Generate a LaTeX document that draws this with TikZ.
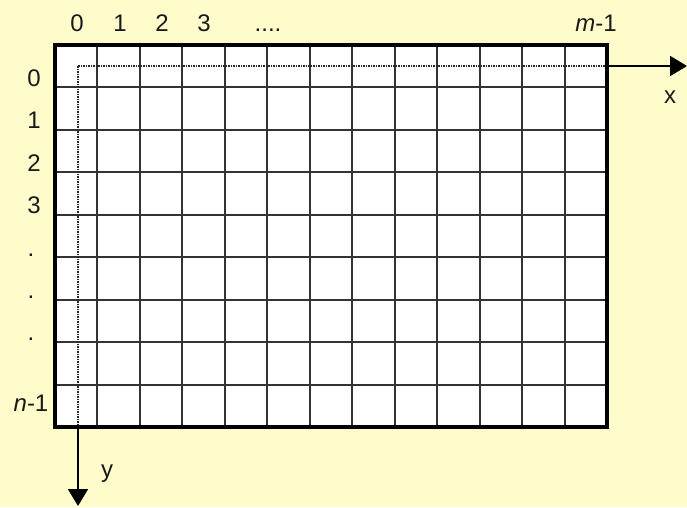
\documentclass[tikz,border=0pt]{standalone}
\usepackage{fontspec}
\setmainfont{Liberation Sans}
\usetikzlibrary{arrows.meta}
\definecolor{bgyellow}{RGB}{255,252,204}
\definecolor{txt}{RGB}{25,25,25}
\begin{document}
\begin{tikzpicture}[x=1pt,y=-1pt,
  lbl/.style={inner sep=0pt,anchor=base,text=txt,font=\fontsize{24}{27}\selectfont},
  gridline/.style={black!80,line width=2pt},
  border/.style={black,line width=3.5pt},
  dotaxis/.style={black!85,line width=2.4pt,dash pattern=on 1.5pt off 1pt},
  axis/.style={black,line width=1.8pt,-{Triangle[length=17pt,width=20pt]}}]
\fill[bgyellow] (0,0) rectangle (687,507);
\useasboundingbox (0,0) rectangle (687,507);
% grid
\fill[white] (55,45) rectangle (607,427);
\foreach \i in {1,...,12} \draw[gridline] ({55+42.46*\i},45) -- ({55+42.46*\i},427);
\foreach \j in {1,...,8} \draw[gridline] (55,{45+42.44*\j}) -- (607,{45+42.44*\j});
% axes
\coordinate (o) at (78,66);
\coordinate (xe) at (607,66);
\coordinate (xt) at (687,66);
\coordinate (ye) at (78,427);
\coordinate (yt) at (78,506);
\draw[dotaxis] (o) -- (xe);
\draw[dotaxis] (o) -- (ye);
\draw[border] (55,45) rectangle (607,427);
\draw[axis] (xe) -- (xt);
\draw[axis] (ye) -- (yt);
% top labels
\node[lbl] (c0) at (77,31) {0};
\node[lbl] (c1) at (120,31) {1};
\node[lbl] (c2) at (162,31) {2};
\node[lbl] (c3) at (204,31) {3};
\node[lbl] (cd) at (268,31) {....};
\node[lbl] (cm) at (596,31) {\textit{m}-1};
% left labels
\node[lbl] (r0) at (34,86) {0};
\node[lbl] (r1) at (34,128.5) {1};
\node[lbl] (r2) at (34,171) {2};
\node[lbl] (r3) at (34,213) {3};
\node[lbl] (rd1) at (31,256) {.};
\node[lbl] (rd2) at (31,298) {.};
\node[lbl] (rd3) at (31,340) {.};
\node[lbl] (rn) at (31,411) {\textit{n}-1};
% axis labels
\node[lbl] (lx) at (670,103) {x};
\node[lbl] (ly) at (107,477) {y};
\end{tikzpicture}
\end{document}
